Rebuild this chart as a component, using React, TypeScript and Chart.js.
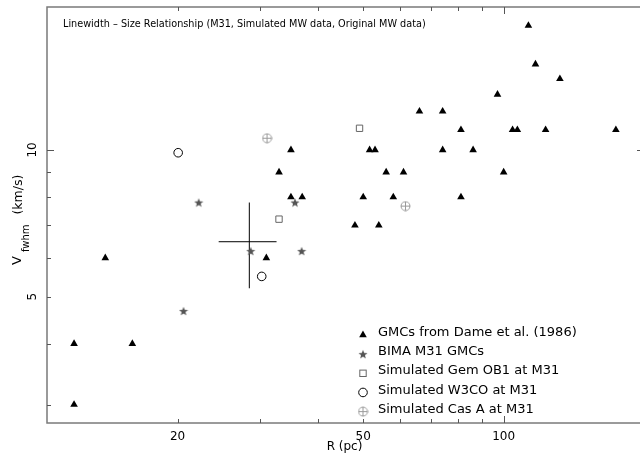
import React, { useEffect, useRef } from 'react';
import { Chart, registerables } from 'chart.js';

Chart.register(...registerables);

// ---------------- data ----------------
const gmcR = [12.0, 12.0, 14.0, 16.0, 31, 33, 35, 35, 37, 48, 50, 51.6, 53, 54, 56, 58, 61, 66, 74, 74, 81, 81, 86, 97, 100, 104.5, 107, 113, 117, 123, 132, 174];
const gmcV = [3, 4, 6, 4, 6, 9, 10, 8, 8, 7, 8, 10, 10, 7, 9, 8, 9, 12, 12, 10, 11, 8, 10, 13, 9, 11, 11, 18, 15, 11, 14, 11];
const bimaR = [20.6, 22.2, 28.7, 35.7, 36.9];
const bimaV = [4.67, 7.8, 6.2, 7.8, 6.2];
const gemR = [33.0, 49.1];
const gemV = [7.21, 11.08];
const w3R = [20.06, 30.3];
const w3V = [9.87, 5.5];
const casR = [31.1, 61.6];
const casV = [10.57, 7.67];
// error cross: [low, centre, high]
const errR = [24.5, 28.5, 32.6];
const errV = [5.2, 6.48, 7.8];

const xTickVals = [20, 30, 40, 50, 60, 70, 80, 90, 100];
const xLabelVals = [20, 50, 100];
const yTickVals = [3, 4, 5, 6, 7, 8, 9, 10];
const yLabelVals = [5, 10];
const xRange = [10.5, 196];
const yRange = [2.75, 19.66];

const seriesLabels = [
  'GMCs from Dame et al. (1986)',
  'BIMA M31 GMCs',
  'Simulated Gem OB1 at M31',
  'Simulated W3CO at M31',
  'Simulated Cas A at M31',
];
const plotTitle = 'Linewidth \u2013 Size Relationship (M31, Simulated MW data, Original MW data)';
const xTitle = 'R (pc)';
const yTitleMain = 'V';
const yTitleSub = 'fwhm';
const yTitleUnit = '(km/s)';

const FONT = '"DejaVu Sans", sans-serif';
const FRAME = '#7a7a7a';

const pts = (xs: number[], ys: number[]) => xs.map((x, i) => ({ x, y: ys[i] }));

function makeStar(d: number, color: string) {
  const c = document.createElement('canvas');
  c.width = d;
  c.height = d;
  const g = c.getContext('2d')!;
  const R = d / 2 - 0.2;
  const r = R * 0.42;
  const cx = d / 2;
  const cy = d / 2 + R * 0.09;
  g.beginPath();
  for (let i = 0; i < 10; i++) {
    const a = -Math.PI / 2 + (i * Math.PI) / 5;
    const rr = i % 2 === 0 ? R : r;
    g.lineTo(cx + rr * Math.cos(a), cy + rr * Math.sin(a));
  }
  g.closePath();
  g.fillStyle = color;
  g.fill();
  return c;
}

function makeCas(d: number, color: string) {
  const c = document.createElement('canvas');
  c.width = d;
  c.height = d;
  const g = c.getContext('2d')!;
  const m = d / 2;
  g.strokeStyle = color;
  g.lineWidth = 1;
  g.beginPath();
  g.arc(m, m, m - 1, 0, Math.PI * 2);
  g.moveTo(1, m);
  g.lineTo(d - 1, m);
  g.moveTo(m, 1);
  g.lineTo(m, d - 1);
  g.stroke();
  return c;
}

export default function App() {
  const ref = useRef<HTMLCanvasElement | null>(null);

  useEffect(() => {
    const canvas = ref.current;
    if (!canvas) return;
    const starImg = makeStar(10, '#555555');
    const casImg = makeCas(11, '#9a9a9a');

    const legendKinds = ['triangle', 'star', 'rect', 'circle', 'cas'];

    const drawSym = (ctx: CanvasRenderingContext2D, kind: string, x: number, y: number) => {
      ctx.save();
      if (kind === 'triangle') {
        const r = 4.4;
        ctx.beginPath();
        for (let i = 0; i < 3; i++) {
          const a = (i * 2 * Math.PI) / 3;
          ctx.lineTo(x + Math.sin(a) * r, y - Math.cos(a) * r);
        }
        ctx.closePath();
        ctx.fillStyle = '#000';
        ctx.fill();
      } else if (kind === 'star') {
        ctx.drawImage(starImg, x - starImg.width / 2, y - starImg.height / 2);
      } else if (kind === 'rect') {
        ctx.strokeStyle = '#666';
        ctx.lineWidth = 1;
        ctx.strokeRect(x - 3.2, y - 3.2, 6.4, 6.4);
      } else if (kind === 'circle') {
        ctx.strokeStyle = '#000';
        ctx.lineWidth = 1;
        ctx.beginPath();
        ctx.arc(x, y, 4.3, 0, Math.PI * 2);
        ctx.stroke();
      } else {
        ctx.drawImage(casImg, x - casImg.width / 2, y - casImg.height / 2);
      }
      ctx.restore();
    };

    const decor = {
      id: 'decor',
      afterDatasetsDraw(chart: any) {
        const ctx: CanvasRenderingContext2D = chart.ctx;
        const { left, right, top, bottom } = chart.chartArea;
        const xs = chart.scales.x;
        const ys = chart.scales.y;
        // the right-hand frame of the original lies just past the picture's edge
        const rightFrame = right + 4;
        ctx.save();
        // frame
        ctx.strokeStyle = FRAME;
        ctx.lineWidth = 1.5;
        ctx.strokeRect(left, top, rightFrame - left, bottom - top);
        // ticks (inward)
        ctx.lineWidth = 1;
        ctx.strokeStyle = '#555';
        ctx.beginPath();
        xTickVals.forEach((v) => {
          const px = Math.round(xs.getPixelForValue(v)) + 0.5;
          const len = Number.isInteger(Math.log10(v)) ? 7 : 4;
          ctx.moveTo(px, bottom);
          ctx.lineTo(px, bottom - len);
          ctx.moveTo(px, top);
          ctx.lineTo(px, top + len);
        });
        yTickVals.forEach((v) => {
          const py = Math.round(ys.getPixelForValue(v)) + 0.5;
          const len = Number.isInteger(Math.log10(v)) ? 7 : 4;
          ctx.moveTo(left, py);
          ctx.lineTo(left + len, py);
          ctx.moveTo(rightFrame, py);
          ctx.lineTo(rightFrame - len, py);
        });
        ctx.stroke();

        // tick labels
        ctx.fillStyle = '#000';
        ctx.font = `12px ${FONT}`;
        ctx.textAlign = 'center';
        ctx.textBaseline = 'middle';
        xLabelVals.forEach((v) => {
          ctx.fillText(String(v), xs.getPixelForValue(v), bottom + 13.5);
        });
        yLabelVals.forEach((v) => {
          ctx.save();
          ctx.translate(left - 14, ys.getPixelForValue(v));
          ctx.rotate(-Math.PI / 2);
          ctx.fillText(String(v), 0, 0);
          ctx.restore();
        });

        // axis titles
        ctx.font = `12px ${FONT}`;
        ctx.fillText(xTitle, 344.5, bottom + 24);

        ctx.save();
        ctx.translate(17.5, 265);
        ctx.rotate(-Math.PI / 2);
        ctx.textAlign = 'left';
        ctx.font = `13px ${FONT}`;
        ctx.fillText(yTitleMain, 0, 0);
        let cx = ctx.measureText(yTitleMain).width + 4;
        ctx.font = `10px ${FONT}`;
        ctx.fillText(yTitleSub, cx, 9);
        cx += ctx.measureText(yTitleSub).width + 10;
        ctx.font = `12.5px ${FONT}`;
        ctx.fillText(yTitleUnit, cx, 1.5);
        ctx.restore();

        // title inside plot
        ctx.font = `9.7px ${FONT}`;
        ctx.textAlign = 'left';
        ctx.fillText(plotTitle, 63, 24);

        // legend
        ctx.font = `13px ${FONT}`;
        ctx.textAlign = 'left';
        chart.data.datasets.forEach((ds: any, i: number) => {
          if (!ds.label) return;
          const ty = 332.7 + i * 19.15;
          drawSym(ctx, legendKinds[i], 363, ty + 2.3);
          ctx.fillStyle = '#000';
          ctx.fillText(ds.label, 378, ty);
        });
        ctx.restore();
      },
    };

    const chart = new Chart(canvas, {
      type: 'scatter',
      data: {
        datasets: [
          {
            label: seriesLabels[0],
            data: pts(gmcR, gmcV),
            pointStyle: 'triangle',
            pointRadius: 4.4,
            pointBackgroundColor: '#000',
            pointBorderColor: '#000',
            pointBorderWidth: 0,
          },
          {
            label: seriesLabels[1],
            data: pts(bimaR, bimaV),
            pointStyle: starImg,
            pointRadius: 5,
          },
          {
            label: seriesLabels[2],
            data: pts(gemR, gemV),
            pointStyle: 'rect',
            pointRadius: 4.5,
            pointBackgroundColor: 'rgba(0,0,0,0)',
            pointBorderColor: '#666',
            pointBorderWidth: 1,
          },
          {
            label: seriesLabels[3],
            data: pts(w3R, w3V),
            pointStyle: 'circle',
            pointRadius: 4.3,
            pointBackgroundColor: 'rgba(0,0,0,0)',
            pointBorderColor: '#000',
            pointBorderWidth: 1,
          },
          {
            label: seriesLabels[4],
            data: pts(casR, casV),
            pointStyle: casImg,
            pointRadius: 5,
          },
          {
            label: '',
            data: [
              { x: errR[0], y: errV[1] },
              { x: errR[2], y: errV[1] },
              { x: errR[1], y: null as any },
              { x: errR[1], y: errV[0] },
              { x: errR[1], y: errV[2] },
            ],
            showLine: true,
            spanGaps: false,
            pointRadius: 0,
            borderColor: '#000',
            borderWidth: 1,
          } as any,
        ],
      },
      options: {
        responsive: false,
        animation: false,
        devicePixelRatio: 1,
        layout: { autoPadding: false, padding: { left: 47, top: 7, right: 0, bottom: 31 } },
        scales: {
          x: { type: 'logarithmic', min: xRange[0], max: xRange[1], display: false },
          y: { type: 'logarithmic', min: yRange[0], max: yRange[1], display: false },
        },
        plugins: {
          legend: { display: false },
          tooltip: { enabled: false },
        },
      },
      plugins: [decor],
    });
    return () => chart.destroy();
  }, []);

  return (
    <div style={{ position: 'absolute', left: 0, top: 0, width: 640, height: 454, background: '#fff' }}>
      <canvas ref={ref} width={640} height={454} />
    </div>
  );
}
